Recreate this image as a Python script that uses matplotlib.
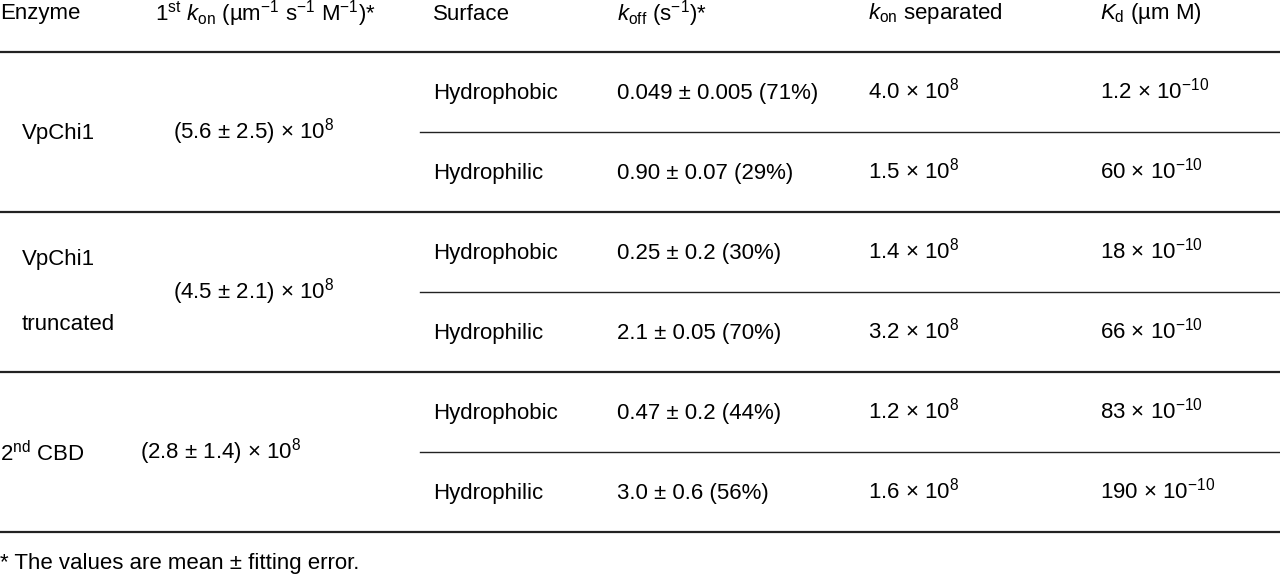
import matplotlib
matplotlib.use("Agg")
import matplotlib.pyplot as plt

plt.rcParams["font.family"] = ["Liberation Sans", "DejaVu Sans"]
plt.rcParams["mathtext.fontset"] = "custom"
plt.rcParams["mathtext.rm"] = "Liberation Sans"
plt.rcParams["mathtext.it"] = "Liberation Sans:italic"
plt.rcParams["mathtext.default"] = "regular"

# =====================================================
# Table data
# =====================================================

headers = [
    "Enzyme",
    r"1$^{st}$ $\mathit{k}_{on}$ (µm$^{-1}$ s$^{-1}$ M$^{-1}$)*",
    "Surface",
    r"$\mathit{k}_{off}$ (s$^{-1}$)*",
    r"$\mathit{k}_{on}$ separated",
    r"$\mathit{K}_{d}$ (µm M)",
]
header_x = [0, 155, 433, 617, 868, 1100]

enzymes = [["VpChi1"], ["VpChi1", "truncated"], [r"2$^{nd}$ CBD"]]
enzyme_x = [22, 22, 0]
first_kon = [r"(5.6 ± 2.5) × 10$^{8}$", r"(4.5 ± 2.1) × 10$^{8}$", r"(2.8 ± 1.4) × 10$^{8}$"]
first_kon_x = [173, 173, 140]

surfaces = ["Hydrophobic", "Hydrophilic"] * 3
koff = ["0.049 ± 0.005 (71%)", "0.90 ± 0.07 (29%)", "0.25 ± 0.2 (30%)",
        "2.1 ± 0.05 (70%)", "0.47 ± 0.2 (44%)", "3.0 ± 0.6 (56%)"]
kon_sep = ["4.0", "1.5", "1.4", "3.2", "1.2", "1.6"]
kd = ["1.2", "60", "18", "66", "83", "190"]

footnote = "* The values are mean ± fitting error."

# =====================================================
# Layout
# =====================================================

fig = plt.figure(figsize=(12.8, 5.77), dpi=100)
ax = fig.add_axes([0, 0, 1, 1])
ax.set_xlim(0, 1280)
ax.set_ylim(577, 0)
ax.axis("off")

fs = 16
header_y = 14
row_top = 52
row_h = 80

for txt, x in zip(headers, header_x):
    ax.text(x, header_y, txt, fontsize=fs, va="center", ha="left")

# full-width rules
for i in range(4):
    y = row_top + i * 2 * row_h
    ax.plot([0, 1280], [y, y], color="#222222", lw=1.6)

# partial rules between surfaces
for i in range(3):
    y = row_top + (2 * i + 1) * row_h
    ax.plot([420, 1280], [y, y], color="#222222", lw=1.0)

for g in range(3):
    yc = row_top + (2 * g + 1) * row_h
    lines = enzymes[g]
    if len(lines) == 1:
        ax.text(enzyme_x[g], yc + 2, lines[0], fontsize=fs, va="center")
    else:
        ax.text(enzyme_x[g], yc - 32, lines[0], fontsize=fs, va="center")
        ax.text(enzyme_x[g], yc + 32, lines[1], fontsize=fs, va="center")
    ax.text(first_kon_x[g], yc, first_kon[g], fontsize=fs, va="center")

for r in range(6):
    y = row_top + r * row_h + 41
    ax.text(433, y, surfaces[r], fontsize=fs, va="center")
    ax.text(617, y, koff[r], fontsize=fs, va="center")
    ax.text(868, y - 2, kon_sep[r] + r" × 10$^{8}$", fontsize=fs, va="center")
    ax.text(1100, y - 2, kd[r] + r" × 10$^{-10}$", fontsize=fs, va="center")

ax.text(0, 563, footnote, fontsize=fs, va="center")

fig.savefig("out.png", dpi=100)
